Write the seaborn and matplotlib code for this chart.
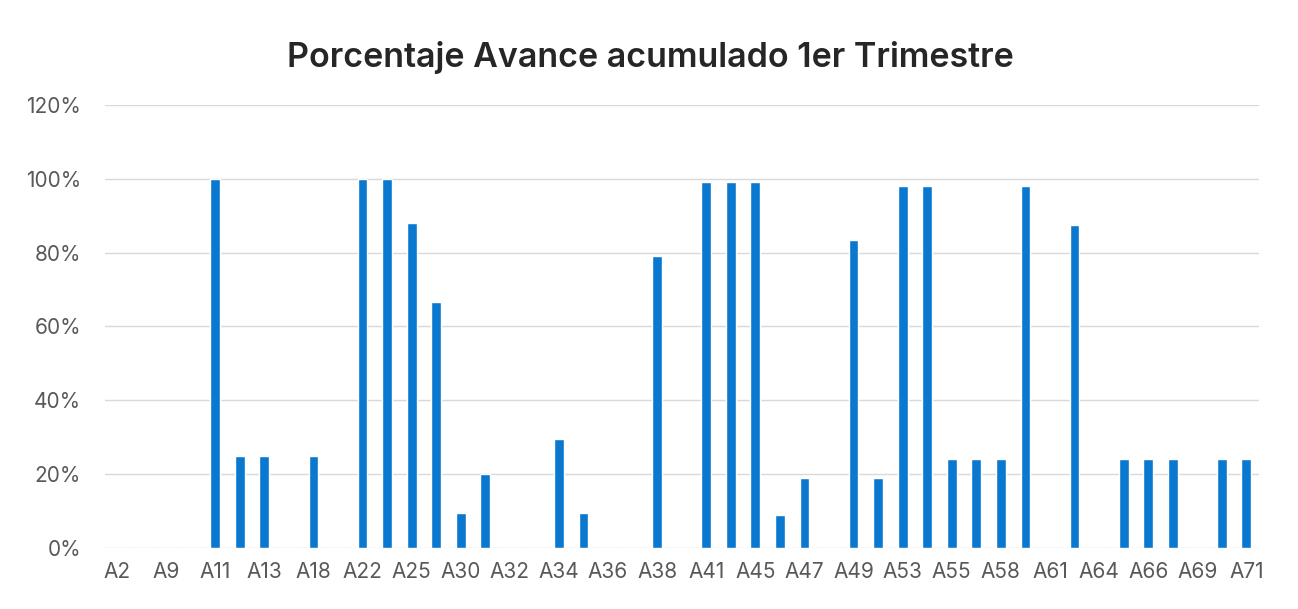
import matplotlib
matplotlib.use("Agg")
import matplotlib.pyplot as plt
from matplotlib.ticker import PercentFormatter
import seaborn as sns
import pandas as pd

# Actividades (solo se rotula una de cada dos en el eje)
actividades = [
    "A2", "A8", "A9", "A10", "A11", "A12", "A13", "A14", "A18", "A20",
    "A22", "A24", "A25", "A28", "A30", "A31", "A32", "A33", "A34", "A35",
    "A36", "A37", "A38", "A40", "A41", "A43", "A45", "A46", "A47", "A48",
    "A49", "A51", "A53", "A54", "A55", "A57", "A58", "A60", "A61", "A63",
    "A64", "A65", "A66", "A68", "A69", "A70", "A71",
]
avance = [
    0.00, 0.00, 0.00, 0.00, 1.00, 0.25, 0.25, 0.00, 0.25, 0.00,
    1.00, 1.00, 0.88, 0.665, 0.095, 0.20, 0.00, 0.00, 0.295, 0.095,
    0.00, 0.00, 0.79, 0.00, 0.99, 0.99, 0.99, 0.09, 0.19, 0.00,
    0.835, 0.19, 0.98, 0.98, 0.24, 0.24, 0.24, 0.98, 0.00, 0.875,
    0.00, 0.24, 0.24, 0.24, 0.00, 0.24, 0.24,
]

df = pd.DataFrame({"actividad": actividades, "avance": avance})

sns.set_theme(style="white")
plt.rcParams["font.family"] = ["Inter", "DejaVu Sans"]

fig = plt.figure(figsize=(12.98, 6.09), dpi=100)
ax = fig.add_axes([0.0807, 0.100, 0.889, 0.728])

sns.barplot(data=df, x="actividad", y="avance", order=actividades,
            color="#0B78CF", saturation=1, width=0.4, ax=ax)

ax.set_xlim(-0.5, len(actividades) - 0.5)
ax.set_ylim(0, 1.2)
ax.set_yticks([0, 0.2, 0.4, 0.6, 0.8, 1.0, 1.2])
ax.yaxis.set_major_formatter(PercentFormatter(1.0, decimals=0))
ax.set_xticks(range(0, len(actividades), 2))
ax.set_xticklabels(actividades[::2])
ax.tick_params(axis="both", length=0, labelsize=15, colors="#595959")
ax.tick_params(axis="x", pad=10)
ax.tick_params(axis="y", pad=17)
ax.grid(axis="y", color="#D9D9D9", linewidth=1)
ax.set_axisbelow(True)
for s in ax.spines.values():
    s.set_visible(False)
ax.set_xlabel("")
ax.set_ylabel("")

fig.text(0.501, 0.905, "Porcentaje Avance acumulado 1er Trimestre",
         ha="center", va="center", fontsize=24.5, fontweight="semibold", color="#262626")

plt.savefig("out.png", dpi=100)
